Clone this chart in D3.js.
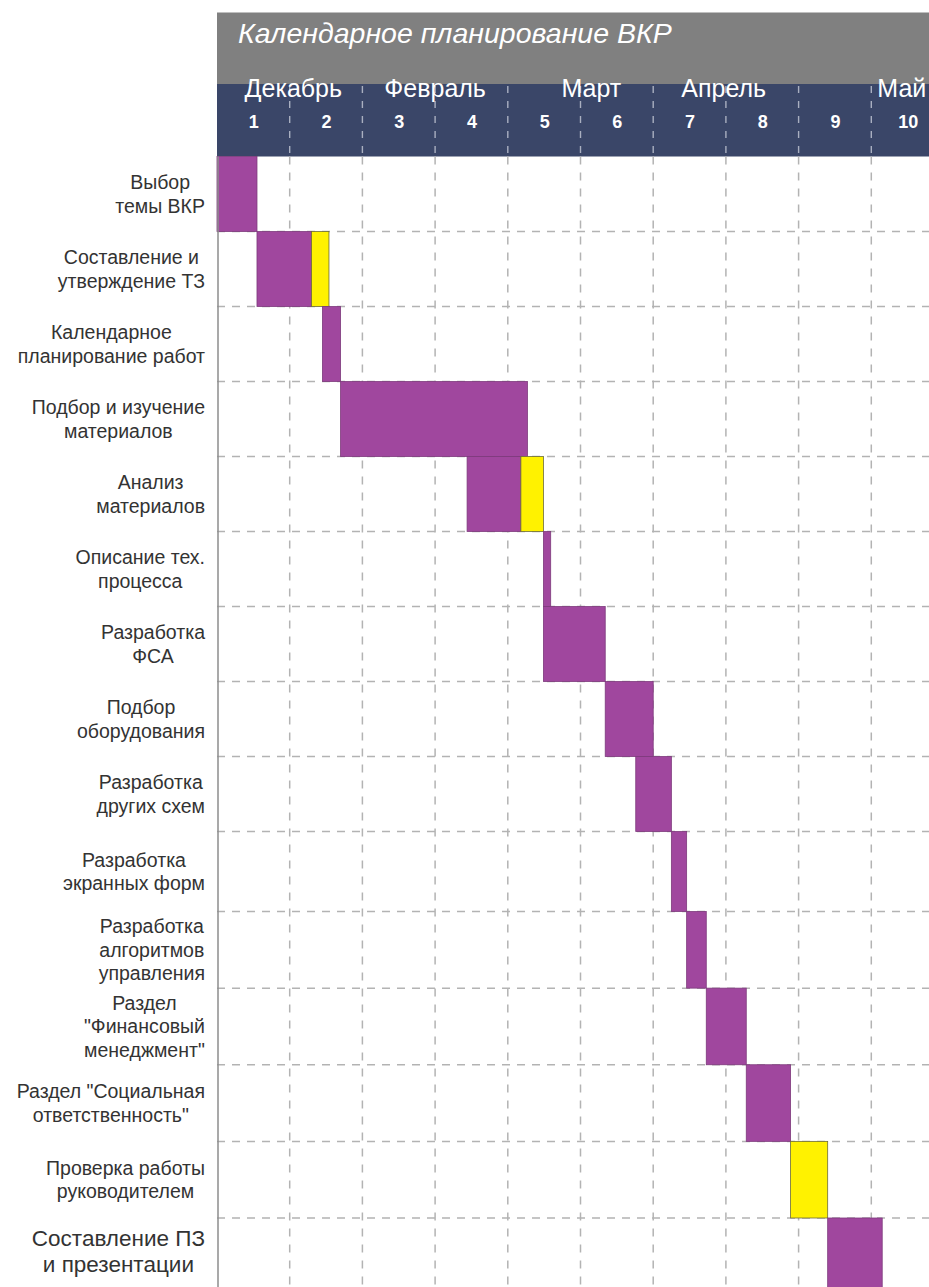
<!DOCTYPE html>
<html lang="ru">
<head>
<meta charset="utf-8">
<script src="https://cdn.jsdelivr.net/npm/d3@7/dist/d3.min.js"></script>
<style>
  html, body { margin: 0; padding: 0; background: #ffffff; }
  svg { display: block; font-family: "Liberation Sans", Arial, sans-serif; }
</style>
</head>
<body>
<svg id="chart" width="929" height="1287"></svg>
<script>
// Календарное планирование ВКР — диаграмма Ганта по неделям
const title = "Календарное планирование ВКР";

const weekLabels = ["1", "2", "3", "4", "5", "6", "7", "8", "9", "10"];
const monthNames = ["Декабрь", "Февраль", "Март", "Апрель", "Май"];
const monthCenters = [1.05, 3.0, 5.15, 6.97, 9.42]; // в неделях

const tasks = [
  ["Выбор", "темы ВКР"],
  ["Составление и", "утверждение ТЗ"],
  ["Календарное", "планирование работ"],
  ["Подбор и изучение", "материалов"],
  ["Анализ", "материалов"],
  ["Описание тех.", "процесса"],
  ["Разработка", "ФСА"],
  ["Подбор", "оборудования"],
  ["Разработка", "других схем"],
  ["Разработка", "экранных форм"],
  ["Разработка", "алгоритмов", "управления"],
  ["Раздел", "\"Финансовый", "менеджмент\""],
  ["Раздел \"Социальная", "ответственность\""],
  ["Проверка работы", "руководителем"],
  ["Составление ПЗ", "и презентации"]
];
// начало, выполнение и проверка (недели)
const startWeek  = [0.00, 0.55, 1.45, 1.70, 3.44, 4.49, 4.49, 5.34, 5.76, 6.25, 6.46, 6.73, 7.28, 7.89, 8.40];
const workWeeks  = [0.55, 0.75, 0.25, 2.57, 0.74, 0.10, 0.85, 0.66, 0.49, 0.21, 0.27, 0.55, 0.61, 0.00, 0.75];
const checkWeeks = [0.00, 0.24, 0.00, 0.00, 0.31, 0.00, 0.00, 0.00, 0.00, 0.00, 0.00, 0.00, 0.00, 0.51, 0.00];

const W = 929, H = 1287;
const left = 217, colW = 72.7;
const headTop = 12.5, navyTop = 84, plotTop = 156.5;

const svg = d3.select("#chart");

const x = d3.scaleLinear().domain([0, 10]).range([left, left + 10 * colW]);
// строки: верхние 9 по 75 px, строка «экранных форм» чуть выше, далее ~76.6 px
const y = d3.scaleLinear().domain([0, 9, 10, 14]).range([plotTop, 831.5, 911.5, 1218]);
const rowTop = i => y(i);
const rowH = i => y(i + 1) - y(i);

// шапка
svg.append("rect").attr("x", left).attr("y", headTop)
  .attr("width", W - left).attr("height", navyTop - headTop).attr("fill", "#808080");
svg.append("rect").attr("x", left).attr("y", navyTop)
  .attr("width", W - left).attr("height", plotTop - navyTop).attr("fill", "#3a4668");

svg.append("text").attr("x", left + 21).attr("y", 43)
  .attr("fill", "#ffffff").attr("font-size", 28.5).attr("font-style", "italic")
  .text(title);

// вертикальная сетка в шапке
svg.append("g").selectAll("line").data(d3.range(1, 10)).join("line")
  .attr("x1", d => x(d)).attr("x2", d => x(d))
  .attr("y1", navyTop + 2).attr("y2", plotTop)
  .attr("stroke", "#a9afc0").attr("stroke-width", 1.4).attr("stroke-dasharray", "7,8");

// месяцы
svg.append("g").selectAll("text").data(monthNames).join("text")
  .attr("x", (d, i) => x(monthCenters[i])).attr("y", 97)
  .attr("text-anchor", "middle").attr("fill", "#ffffff").attr("font-size", 25)
  .text(d => d);

// номера недель
const weekAxis = d3.axisBottom(x)
  .tickValues(d3.range(weekLabels.length).map(i => i + 0.5))
  .tickFormat((d, i) => weekLabels[i])
  .tickSize(0).tickPadding(0);
const wg = svg.append("g").attr("transform", `translate(0,115)`).call(weekAxis);
wg.select(".domain").remove();
wg.selectAll("text").attr("fill", "#ffffff").attr("font-size", 18)
  .attr("font-weight", "bold").attr("font-family", "'Liberation Sans', Arial, sans-serif");

// сетка поля диаграммы
const plotBottom = H;
svg.append("g").selectAll("line").data(d3.range(1, 10)).join("line")
  .attr("x1", d => x(d)).attr("x2", d => x(d))
  .attr("y1", plotTop).attr("y2", plotBottom)
  .attr("stroke", "#b3b3b3").attr("stroke-width", 1.5).attr("stroke-dasharray", "8,8");

svg.append("g").selectAll("line").data(d3.range(1, tasks.length)).join("line")
  .attr("x1", left).attr("x2", W)
  .attr("y1", d => y(d)).attr("y2", d => y(d))
  .attr("stroke", "#b3b3b3").attr("stroke-width", 1.5).attr("stroke-dasharray", "8,7");

// полосы задач
const bars = svg.append("g");
tasks.forEach((t, i) => {
  if (workWeeks[i] > 0) {
    bars.append("rect")
      .attr("x", x(startWeek[i])).attr("y", rowTop(i))
      .attr("width", x(startWeek[i] + workWeeks[i]) - x(startWeek[i]))
      .attr("height", rowH(i))
      .attr("fill", "#a0479e").attr("stroke", "#7d3a7c").attr("stroke-width", 0.8);
  }
  if (checkWeeks[i] > 0) {
    const s = startWeek[i] + workWeeks[i];
    bars.append("rect")
      .attr("x", x(s)).attr("y", rowTop(i))
      .attr("width", x(s + checkWeeks[i]) - x(s))
      .attr("height", rowH(i))
      .attr("fill", "#fff200").attr("stroke", "#6b6b3a").attr("stroke-width", 0.8);
  }
});

// ось задач
svg.append("line").attr("x1", left + 1).attr("x2", left + 1)
  .attr("y1", plotTop).attr("y2", plotBottom)
  .attr("stroke", "#8c8c8c").attr("stroke-width", 1.5);

// подписи задач: строки по центру блока, блок прижат к оси
const labelRight = 205;
const labels = svg.append("g").attr("fill", "#333333");
tasks.forEach((lines, i) => {
  const big = i === tasks.length - 1;
  const fs = big ? 22.5 : 19.5;
  const lh = big ? 26 : 23.5;
  const g = labels.append("g");
  const txt = g.selectAll("text").data(lines).join("text")
    .attr("font-size", fs).attr("text-anchor", "middle").text(d => d);
  let maxW = 0;
  txt.each(function () { maxW = Math.max(maxW, this.getComputedTextLength()); });
  const cx = labelRight - maxW / 2;
  const cy = big ? rowTop(i) + 33 : rowTop(i) + rowH(i) / 2;
  const first = cy - (lines.length - 1) * lh / 2 + fs * 0.36;
  txt.attr("x", cx).attr("y", (d, k) => first + k * lh);
});
</script>
</body>
</html>
